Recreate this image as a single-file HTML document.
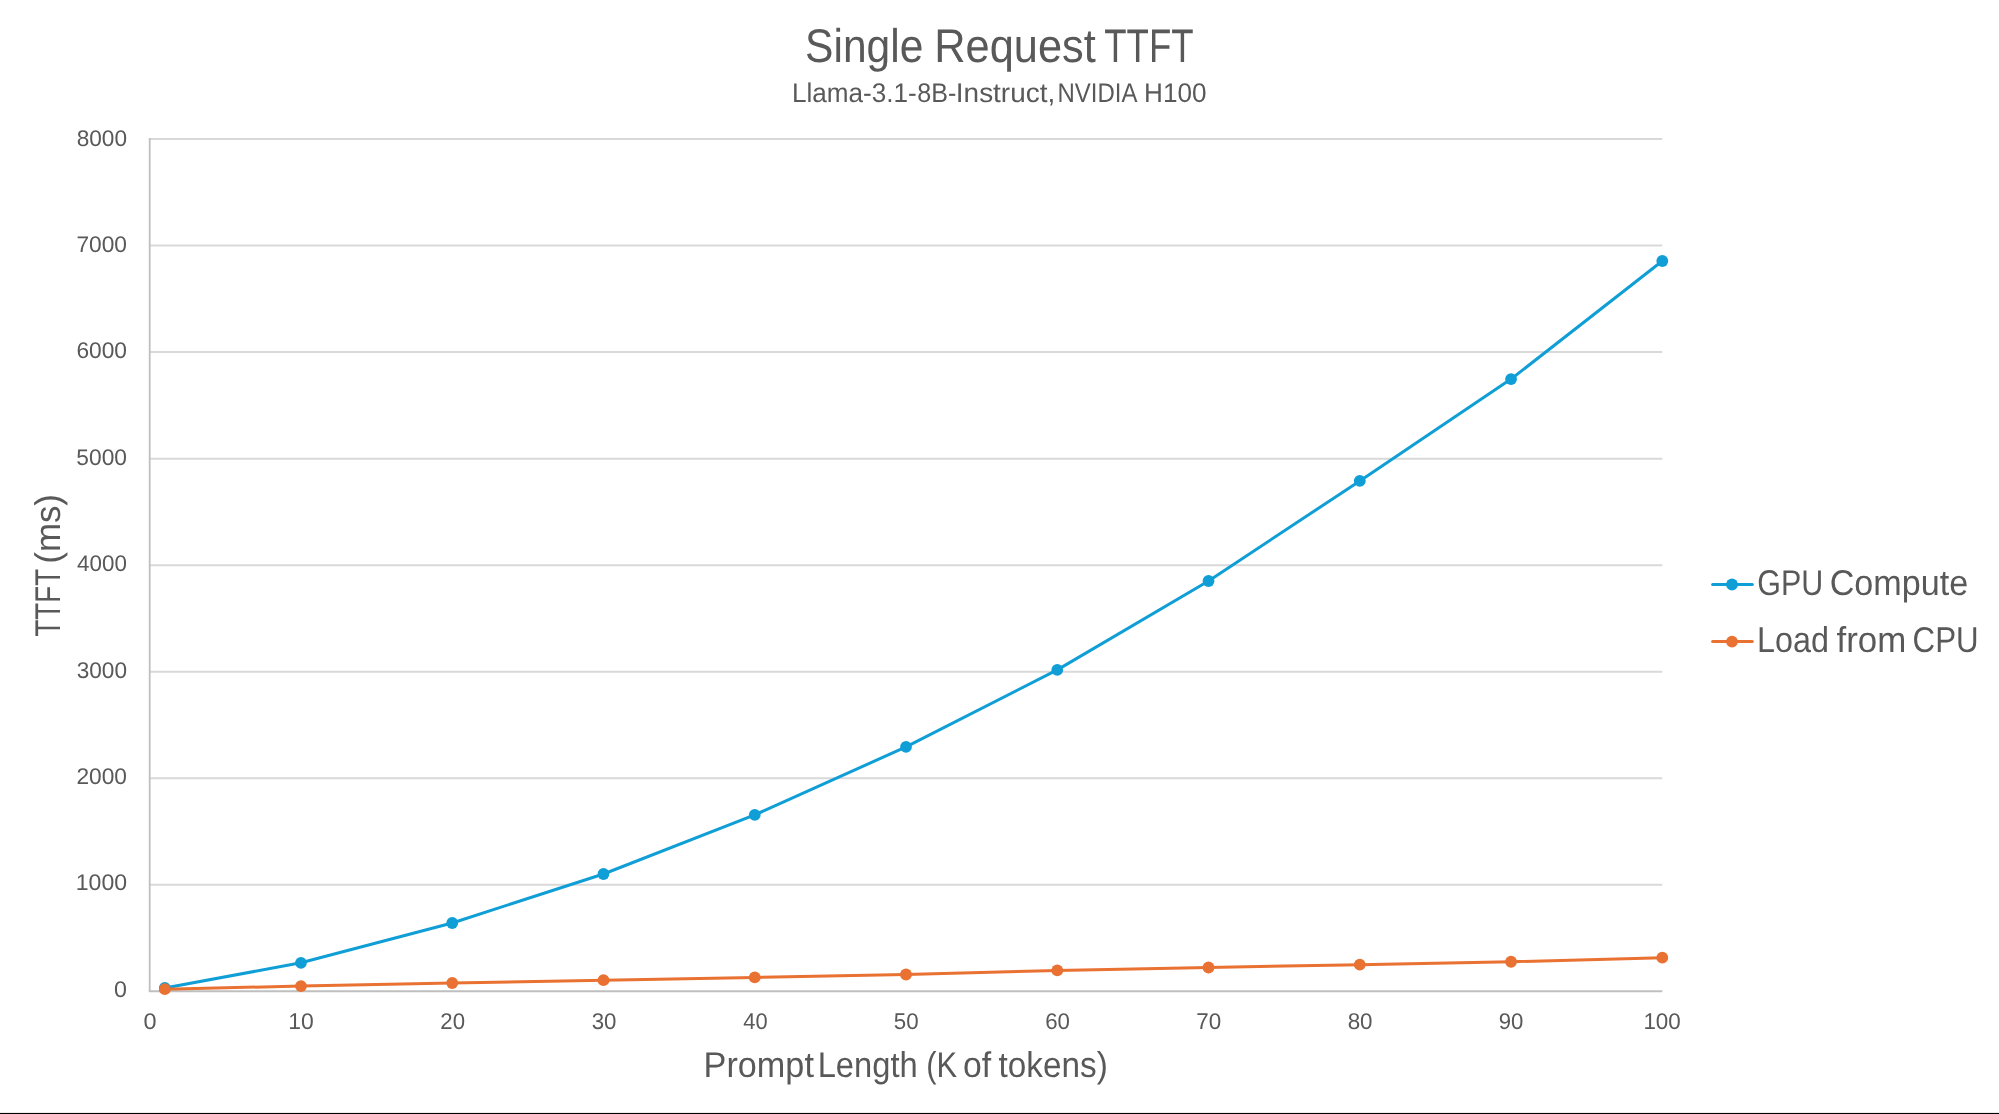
<!DOCTYPE html>
<html><head><meta charset="utf-8"><style>
html,body{margin:0;padding:0;background:#fff;width:1999px;height:1114px;overflow:hidden}
svg{display:block;text-rendering:geometricPrecision}
text{font-family:"Liberation Sans", sans-serif;fill:#595959}
g.t{opacity:0.999}
</style></head><body>
<svg width="1999" height="1114" viewBox="0 0 1999 1114">
<rect x="0" y="0" width="1999" height="1114" fill="#fff"/>
<line x1="149.70" y1="139.0" x2="1662.30" y2="139.0" stroke="#D9D9D9" stroke-width="2.0"/>
<line x1="149.70" y1="245.55" x2="1662.30" y2="245.55" stroke="#D9D9D9" stroke-width="2.0"/>
<line x1="149.70" y1="352.1" x2="1662.30" y2="352.1" stroke="#D9D9D9" stroke-width="2.0"/>
<line x1="149.70" y1="458.65" x2="1662.30" y2="458.65" stroke="#D9D9D9" stroke-width="2.0"/>
<line x1="149.70" y1="565.2" x2="1662.30" y2="565.2" stroke="#D9D9D9" stroke-width="2.0"/>
<line x1="149.70" y1="671.75" x2="1662.30" y2="671.75" stroke="#D9D9D9" stroke-width="2.0"/>
<line x1="149.70" y1="778.3" x2="1662.30" y2="778.3" stroke="#D9D9D9" stroke-width="2.0"/>
<line x1="149.70" y1="884.85" x2="1662.30" y2="884.85" stroke="#D9D9D9" stroke-width="2.0"/>
<line x1="149.70" y1="138.00" x2="149.70" y2="991.25" stroke="#BFBFBF" stroke-width="1.8"/>
<line x1="148.80" y1="991.25" x2="1662.30" y2="991.25" stroke="#BFBFBF" stroke-width="1.8"/>
<g class="t">
<text x="805.082" y="62.05" font-size="47.17" textLength="118.334" lengthAdjust="spacingAndGlyphs">Single</text>
<text x="934.246" y="62.05" font-size="47.17" textLength="161.532" lengthAdjust="spacingAndGlyphs">Request</text>
<text x="1104.281" y="62.05" font-size="47.17" textLength="89.337" lengthAdjust="spacingAndGlyphs">TTFT</text>
<text x="791.999" y="102.4" font-size="27.04" textLength="124.839" lengthAdjust="spacingAndGlyphs">Llama-3.1-</text>
<text x="917.372" y="102.4" font-size="27.04" textLength="39.094" lengthAdjust="spacingAndGlyphs">8B-</text>
<text x="955.859" y="102.4" font-size="27.04" textLength="99.361" lengthAdjust="spacingAndGlyphs">Instruct,</text>
<text x="1057.545" y="102.4" font-size="27.04" textLength="79.902" lengthAdjust="spacingAndGlyphs">NVIDIA</text>
<text x="1144.074" y="102.4" font-size="27.04" textLength="62.444" lengthAdjust="spacingAndGlyphs">H100</text>
<text x="703.606" y="1077.0" font-size="35.76" textLength="110.312" lengthAdjust="spacingAndGlyphs">Prompt</text>
<text x="817.675" y="1077.0" font-size="35.76" textLength="99.979" lengthAdjust="spacingAndGlyphs">Length</text>
<text x="926.356" y="1077.0" font-size="35.76" textLength="30.855" lengthAdjust="spacingAndGlyphs">(K</text>
<text x="962.912" y="1077.0" font-size="35.76" textLength="28.189" lengthAdjust="spacingAndGlyphs">of</text>
<text x="998.56" y="1077.0" font-size="35.76" textLength="109.239" lengthAdjust="spacingAndGlyphs">tokens)</text>
<text x="1757.281" y="594.9" font-size="35.76" textLength="65.903" lengthAdjust="spacingAndGlyphs">GPU</text>
<text x="1829.68" y="594.9" font-size="35.76" textLength="138.541" lengthAdjust="spacingAndGlyphs">Compute</text>
<text x="1757.099" y="651.9" font-size="35.9" textLength="71.92" lengthAdjust="spacingAndGlyphs">Load</text>
<text x="1836.513" y="651.9" font-size="35.9" textLength="69.749" lengthAdjust="spacingAndGlyphs">from</text>
<text x="1912.583" y="651.9" font-size="35.9" textLength="65.976" lengthAdjust="spacingAndGlyphs">CPU</text>
<text transform="translate(60.1,636.591) rotate(-90)" font-size="35.76" textLength="67.657" lengthAdjust="spacingAndGlyphs">TTFT</text>
<text transform="translate(60.1,563.691) rotate(-90)" font-size="35.76" textLength="69.591" lengthAdjust="spacingAndGlyphs">(ms)</text>
<text x="76.705" y="145.66" font-size="22.6" textLength="50.274" lengthAdjust="spacingAndGlyphs">8000</text>
<text x="76.423" y="252.04" font-size="22.6" textLength="50.542" lengthAdjust="spacingAndGlyphs">7000</text>
<text x="76.401" y="358.41" font-size="22.6" textLength="50.548" lengthAdjust="spacingAndGlyphs">6000</text>
<text x="76.333" y="464.79" font-size="22.6" textLength="50.618" lengthAdjust="spacingAndGlyphs">5000</text>
<text x="77.119" y="571.16" font-size="22.6" textLength="49.752" lengthAdjust="spacingAndGlyphs">4000</text>
<text x="76.768" y="677.53" font-size="22.6" textLength="50.21" lengthAdjust="spacingAndGlyphs">3000</text>
<text x="76.457" y="783.91" font-size="22.6" textLength="50.506" lengthAdjust="spacingAndGlyphs">2000</text>
<text x="75.825" y="890.28" font-size="22.6" textLength="51.247" lengthAdjust="spacingAndGlyphs">1000</text>
<text x="113.919" y="996.66" font-size="22.6" textLength="12.927" lengthAdjust="spacingAndGlyphs">0</text>
<text x="143.595" y="1028.6" font-size="22.74" textLength="13.068" lengthAdjust="spacingAndGlyphs">0</text>
<text x="288.289" y="1028.6" font-size="22.74" textLength="25.521" lengthAdjust="spacingAndGlyphs">10</text>
<text x="440.308" y="1028.6" font-size="22.74" textLength="24.7" lengthAdjust="spacingAndGlyphs">20</text>
<text x="591.639" y="1028.6" font-size="22.74" textLength="24.753" lengthAdjust="spacingAndGlyphs">30</text>
<text x="743.252" y="1028.6" font-size="22.74" textLength="24.344" lengthAdjust="spacingAndGlyphs">40</text>
<text x="893.777" y="1028.6" font-size="22.74" textLength="24.819" lengthAdjust="spacingAndGlyphs">50</text>
<text x="1045.192" y="1028.6" font-size="22.74" textLength="24.731" lengthAdjust="spacingAndGlyphs">60</text>
<text x="1196.267" y="1028.6" font-size="22.74" textLength="24.954" lengthAdjust="spacingAndGlyphs">70</text>
<text x="1347.639" y="1028.6" font-size="22.74" textLength="24.918" lengthAdjust="spacingAndGlyphs">80</text>
<text x="1498.726" y="1028.6" font-size="22.74" textLength="24.676" lengthAdjust="spacingAndGlyphs">90</text>
<text x="1643.408" y="1028.6" font-size="22.74" textLength="37.401" lengthAdjust="spacingAndGlyphs">100</text>
</g>
<polyline points="164.83,988.0 300.96,962.8 452.22,923.0 603.48,874.0 754.74,814.9 906.00,746.9 1057.26,669.9 1208.52,581.0 1359.78,480.9 1511.04,379.1 1662.30,261.0" fill="none" stroke="#0F9ED5" stroke-width="3.0" stroke-linejoin="round" stroke-linecap="round"/>
<circle cx="164.83" cy="988.0" r="5.9" fill="#0F9ED5"/>
<circle cx="300.96" cy="962.8" r="5.9" fill="#0F9ED5"/>
<circle cx="452.22" cy="923.0" r="5.9" fill="#0F9ED5"/>
<circle cx="603.48" cy="874.0" r="5.9" fill="#0F9ED5"/>
<circle cx="754.74" cy="814.9" r="5.9" fill="#0F9ED5"/>
<circle cx="906.00" cy="746.9" r="5.9" fill="#0F9ED5"/>
<circle cx="1057.26" cy="669.9" r="5.9" fill="#0F9ED5"/>
<circle cx="1208.52" cy="581.0" r="5.9" fill="#0F9ED5"/>
<circle cx="1359.78" cy="480.9" r="5.9" fill="#0F9ED5"/>
<circle cx="1511.04" cy="379.1" r="5.9" fill="#0F9ED5"/>
<circle cx="1662.30" cy="261.0" r="5.9" fill="#0F9ED5"/>
<polyline points="164.83,989.2 300.96,986.1 452.22,983.0 603.48,980.2 754.74,977.4 906.00,974.5 1057.26,970.4 1208.52,967.5 1359.78,964.7 1511.04,961.75 1662.30,957.65" fill="none" stroke="#E97132" stroke-width="3.0" stroke-linejoin="round" stroke-linecap="round"/>
<circle cx="164.83" cy="989.2" r="5.9" fill="#E97132"/>
<circle cx="300.96" cy="986.1" r="5.9" fill="#E97132"/>
<circle cx="452.22" cy="983.0" r="5.9" fill="#E97132"/>
<circle cx="603.48" cy="980.2" r="5.9" fill="#E97132"/>
<circle cx="754.74" cy="977.4" r="5.9" fill="#E97132"/>
<circle cx="906.00" cy="974.5" r="5.9" fill="#E97132"/>
<circle cx="1057.26" cy="970.4" r="5.9" fill="#E97132"/>
<circle cx="1208.52" cy="967.5" r="5.9" fill="#E97132"/>
<circle cx="1359.78" cy="964.7" r="5.9" fill="#E97132"/>
<circle cx="1511.04" cy="961.75" r="5.9" fill="#E97132"/>
<circle cx="1662.30" cy="957.65" r="5.9" fill="#E97132"/>
<line x1="1712.6" y1="584.5" x2="1752.3" y2="584.5" stroke="#0F9ED5" stroke-width="3.0" stroke-linecap="round"/>
<circle cx="1732.0" cy="584.5" r="5.9" fill="#0F9ED5"/>
<line x1="1712.6" y1="641.6" x2="1752.3" y2="641.6" stroke="#E97132" stroke-width="3.0" stroke-linecap="round"/>
<circle cx="1732.0" cy="641.6" r="5.9" fill="#E97132"/>
<rect x="0" y="1112.92" width="1999" height="1.08" fill="#000"/>
</svg>
</body></html>
